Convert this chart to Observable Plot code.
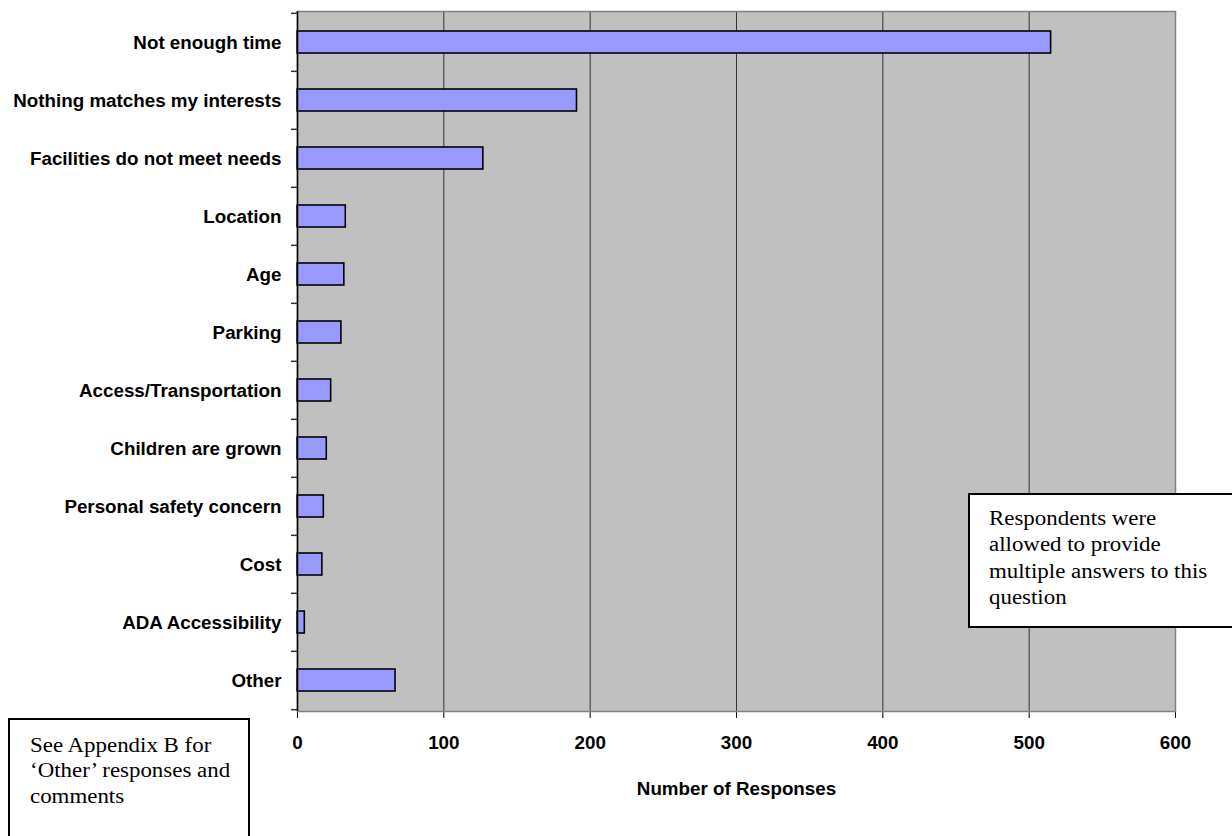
<!DOCTYPE html>
<html>
<head>
<meta charset="utf-8">
<script src="https://cdn.jsdelivr.net/npm/d3@7"></script>
<script src="https://cdn.jsdelivr.net/npm/@observablehq/plot@0.6"></script>
<style>
  html, body { margin: 0; padding: 0; background: #fff; }
  #chart { position: relative; width: 1232px; height: 836px; overflow: hidden; }
  .note {
    position: absolute; box-sizing: border-box; border: 2px solid #000; background: #fff;
    font-family: "Liberation Serif", "Times New Roman", serif; font-size: 20px; color: #000;
  }
  .note span { display: block; white-space: nowrap; transform: scaleX(1.145); transform-origin: 0 0; }
</style>
</head>
<body>
<div id="chart"></div>
<script>
// Reasons for not using the facilities, with response counts
const reasons = [
  "Not enough time",
  "Nothing matches my interests",
  "Facilities do not meet needs",
  "Location",
  "Age",
  "Parking",
  "Access/Transportation",
  "Children are grown",
  "Personal safety concern",
  "Cost",
  "ADA Accessibility",
  "Other"
];
const responses = [515, 191, 127, 33, 32, 30, 23, 20, 18, 17, 5, 67];
const xTicks = [0, 100, 200, 300, 400, 500, 600];
const gridValues = [100, 200, 300, 400, 500];

const rows = reasons.map((reason, i) => ({reason, count: responses[i]}));

const W = 1232, H = 836;
const mTop = 11, mBottom = 125, mLeft = 297, mRight = 57;
const step = (H - mTop - mBottom) / reasons.length;

const chart = Plot.plot({
  width: W,
  height: H,
  marginTop: mTop,
  marginBottom: mBottom,
  marginLeft: mLeft,
  marginRight: mRight,
  style: {
    fontFamily: "'Liberation Sans', Arial, sans-serif",
    fontSize: "18.8px",
    fontWeight: "bold",
    color: "#000",
    background: "#fff",
    overflow: "visible"
  },
  x: {
    domain: [0, 600],
    ticks: xTicks,
    tickSize: 7,
    tickPadding: 17,
    line: true,
    label: "Number of Responses",
    labelAnchor: "center",
    labelOffset: 83,
    labelArrow: "none"
  },
  y: {
    domain: reasons,
    paddingInner: 0.62,
    paddingOuter: 0.31,
    tickSize: 0,
    tickPadding: 16,
    label: null
  },
  marks: [
    Plot.frame({fill: "#c0c0c0", stroke: "none"}),
    Plot.ruleX(gridValues, {stroke: "#333", strokeWidth: 1}),
    Plot.barX(rows, {x: "count", y: "reason", fill: "#9999ff", stroke: "#000", strokeWidth: 1.6}),
    Plot.frame({stroke: "#808080", strokeWidth: 1.5}),
    Plot.ruleX([0], {stroke: "#000", strokeWidth: 1.5}),
    // short ticks on the category axis, at the boundaries between bands
    Plot.ruleY(reasons, {y: d => d, x1: () => 0, x2: () => 0, insetLeft: -6, dy: -step / 2, stroke: "#333", strokeWidth: 1.5}),
    Plot.ruleY(reasons.slice(-1), {y: d => d, x1: () => 0, x2: () => 0, insetLeft: -6, dy: step / 2, stroke: "#333", strokeWidth: 1.5})
  ]
});

const host = document.getElementById("chart");
host.appendChild(chart);

// text boxes placed over the chart
function addNote(lines, box) {
  const div = document.createElement("div");
  div.className = "note";
  Object.assign(div.style, box);
  lines.forEach(t => {
    const s = document.createElement("span");
    s.textContent = t;
    div.appendChild(s);
  });
  host.appendChild(div);
}

addNote(
  ["Respondents were", "allowed to provide", "multiple answers to this", "question"],
  {left: "968px", top: "493px", width: "266px", height: "135px", padding: "10px 0 0 19px", lineHeight: "26.3px"}
);
addNote(
  ["See Appendix B for", "\u2018Other\u2019 responses and", "comments"],
  {left: "8px", top: "718px", width: "242px", height: "140px", padding: "13px 0 0 20px", lineHeight: "25.3px"}
);
</script>
</body>
</html>
